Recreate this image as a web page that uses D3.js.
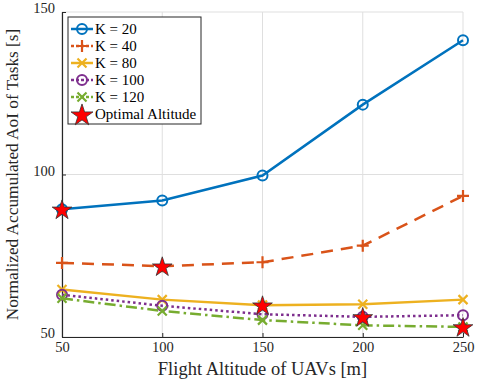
<!DOCTYPE html>
<html>
<head>
<meta charset="utf-8">
<script src="https://cdn.jsdelivr.net/npm/d3@7"></script>
<style>
  body { margin: 0; background: white; }
  svg { display: block; font-family: "Liberation Serif", "Times New Roman", serif; }
  svg text { font-family: "Liberation Serif", "Times New Roman", serif; }
</style>
</head>
<body>
<svg id="chart"></svg>
<script>
const altitudes = [50, 100, 150, 200, 250];
const seriesNames = ["K = 20", "K = 40", "K = 80", "K = 100", "K = 120"];
const aoiK20 = [89.3, 92.0, 99.7, 121.5, 141.3];
const aoiK40 = [72.8, 71.8, 73.0, 78.1, 93.4];
const aoiK80 = [64.6, 61.5, 59.8, 60.1, 61.5];
const aoiK100 = [63.0, 59.6, 57.0, 56.2, 56.7];
const aoiK120 = [61.9, 58.0, 55.2, 53.6, 53.1];
// optimal altitude: one per K (star markers)
const optimalAlt = [50, 100, 150, 200, 250];
const optimalAoI = [89.3, 71.8, 59.8, 56.2, 53.1];
const yTicks = [50, 100, 150];

const colors = ["#0072BD", "#D95319", "#EDB120", "#7E2F8E", "#77AC30"];
const dashes = [null, "12,8", null, "2.5,3", "11,4,2.5,4"];
const markers = ["circle", "plus", "cross", "circle", "cross"];
const allSeries = [aoiK20, aoiK40, aoiK80, aoiK100, aoiK120];

const width = 478, height = 381;
const margin = { top: 12, right: 15, bottom: 44, left: 62 };
const innerW = width - margin.left - margin.right;
const innerH = height - margin.top - margin.bottom;

const svg = d3.select("#chart").attr("width", width).attr("height", height);
const g = svg.append("g").attr("transform", `translate(${margin.left},${margin.top})`);

const x = d3.scaleLinear().domain([50, 250]).range([0, innerW]);
const y = d3.scaleLinear().domain([50, 150]).range([innerH, 0]);

//grid
g.selectAll("line.gx").data(altitudes).enter().append("line")
    .attr("x1", d => x(d)).attr("x2", d => x(d))
    .attr("y1", 0).attr("y2", innerH)
    .style("stroke", "#dfdfdf").style("stroke-width", 1);
g.selectAll("line.gy").data(yTicks).enter().append("line")
    .attr("x1", 0).attr("x2", innerW)
    .attr("y1", d => y(d)).attr("y2", d => y(d))
    .style("stroke", "#dfdfdf").style("stroke-width", 1);

//axes
const xAxis = d3.axisBottom(x).tickValues(altitudes).tickSize(-4).tickPadding(4).tickSizeOuter(0);
const xg = g.append("g").attr("transform", `translate(0,${innerH})`).call(xAxis);
const yAxis = d3.axisLeft(y).tickValues(yTicks).tickSize(-4).tickPadding(7).tickSizeOuter(0);
const yg = g.append("g").call(yAxis);
[xg, yg].forEach(a => {
    a.attr("font-family", null);
    a.selectAll("path").style("stroke", "#262626").style("stroke-width", 1.2);
    a.selectAll("line").style("stroke", "#262626");
    a.selectAll("text")
        .style("font-family", "'Liberation Serif', serif")
        .style("font-size", "14.5px").style("fill", "#262626");
});
xg.selectAll("text").attr("dy", "0.75em");
yg.selectAll("text").attr("dy", "0.05em");

g.append("text")
    .attr("x", innerW / 2).attr("y", innerH + 38)
    .attr("text-anchor", "middle")
    .style("font-size", "18.5px").style("fill", "#262626")
    .text("Flight Altitude of UAVs [m]");
g.append("text")
    .attr("transform", "rotate(-90)")
    .attr("x", -innerH / 2).attr("y", -44)
    .attr("text-anchor", "middle")
    .style("font-size", "17.3px").style("fill", "#262626")
    .text("Normalized Accumulated AoI of Tasks [s]");

function drawMarker(sel, type, color) {
    if (type === "circle") {
        sel.append("circle").attr("r", 5).style("fill", "none")
            .style("stroke", color).style("stroke-width", 2);
    } else if (type === "plus") {
        sel.append("path").attr("d", "M-6,0H6M0,-6V6")
            .style("stroke", color).style("stroke-width", 2.2);
    } else {
        sel.append("path").attr("d", "M-4.5,-4.5L4.5,4.5M-4.5,4.5L4.5,-4.5")
            .style("stroke", color).style("stroke-width", 2.2);
    }
}

const line = d3.line().x((d, i) => x(altitudes[i])).y(d => y(d));

allSeries.forEach((vals, k) => {
    g.append("path").datum(vals)
        .attr("d", line)
        .style("fill", "none")
        .style("stroke", colors[k])
        .style("stroke-width", 2.5)
        .style("stroke-dasharray", dashes[k]);
    vals.forEach((v, i) => {
        const m = g.append("g").attr("transform", `translate(${x(altitudes[i])},${y(v)})`);
        drawMarker(m, markers[k], colors[k]);
    });
});

const star = d3.symbol().type(d3.symbolStar).size(120);
g.selectAll("path.star").data(optimalAoI).enter().append("path")
    .attr("class", "star")
    .attr("d", star)
    .attr("transform", (d, i) => `translate(${x(optimalAlt[i])},${y(d) + 1})`)
    .style("fill", "#ff0000").style("stroke", "#333").style("stroke-width", 0.8);

//legend
const lg = svg.append("g").attr("transform", "translate(68,17)");
lg.append("rect").attr("width", 133).attr("height", 107)
    .style("fill", "white").style("stroke", "#262626").style("stroke-width", 1);
const rowY = [12, 29, 46, 63, 80, 97];
seriesNames.forEach((name, k) => {
    const row = lg.append("g").attr("transform", `translate(0,${rowY[k]})`);
    row.append("line").attr("x1", 3).attr("x2", 25)
        .style("stroke", colors[k]).style("stroke-width", 2.5)
        .style("stroke-dasharray", dashes[k] ? "3,2" : null);
    const m = row.append("g").attr("transform", "translate(14,0)");
    drawMarker(m, markers[k], colors[k]);
    row.append("text").attr("x", 27).attr("y", 5)
        .style("font-size", "15px").style("fill", "#000").text(name);
});
const srow = lg.append("g").attr("transform", `translate(0,${rowY[5]})`);
srow.append("path").attr("d", d3.symbol().type(d3.symbolStar).size(150))
    .attr("transform", "translate(14,1.5)")
    .style("fill", "#ff0000").style("stroke", "#333").style("stroke-width", 0.8);
srow.append("text").attr("x", 27).attr("y", 5)
    .style("font-size", "15px").style("fill", "#000").text("Optimal Altitude");
</script>
</body>
</html>
